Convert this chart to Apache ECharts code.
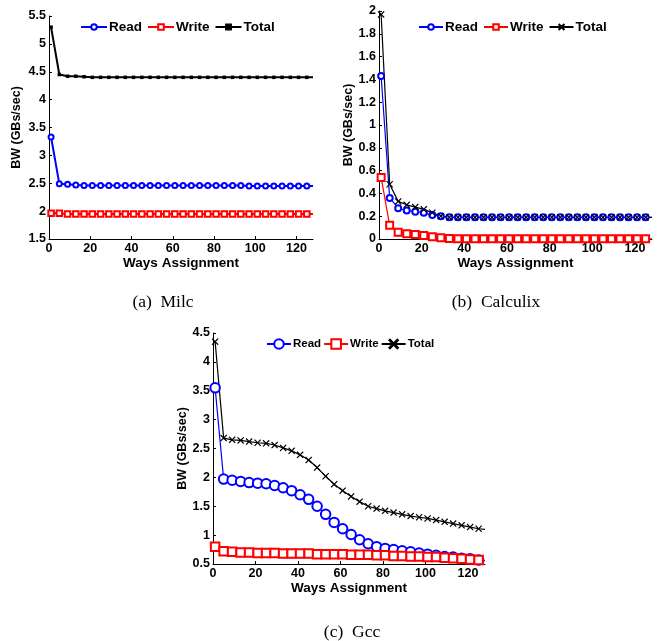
<!DOCTYPE html>
<html><head><meta charset="utf-8">
<script src="https://cdn.jsdelivr.net/npm/echarts@6/dist/echarts.min.js"></script>
<style>html,body{margin:0;padding:0;background:#fff}#c{width:662px;height:641px}</style>
</head><body><div id="c"></div>
<script>
// x positions (ways assignment); last point = axis end, drawn without marker
var ways = [1,5,9,13,17,21,25,29,33,37,41,45,49,53,57,61,65,69,73,77,81,85,89,93,97,101,105,109,113,117,121,125,128];

// (a) Milc
var milcRead  = [3.33,2.49,2.48,2.47,2.46,2.46,2.46,2.46,2.46,2.46,2.46,2.46,2.46,2.46,2.46,2.46,2.46,2.46,2.46,2.46,2.46,2.46,2.46,2.46,2.45,2.45,2.45,2.45,2.45,2.45,2.45,2.45,2.45];
var milcWrite = [1.96,1.96,1.95,1.95,1.95,1.95,1.95,1.95,1.95,1.95,1.95,1.95,1.95,1.95,1.95,1.95,1.95,1.95,1.95,1.95,1.95,1.95,1.95,1.95,1.95,1.95,1.95,1.95,1.95,1.95,1.95,1.95,1.95];
var milcTotal = [5.30,4.45,4.42,4.42,4.41,4.40,4.40,4.40,4.40,4.40,4.40,4.40,4.40,4.40,4.40,4.40,4.40,4.40,4.40,4.40,4.40,4.40,4.40,4.40,4.40,4.40,4.40,4.40,4.40,4.40,4.40,4.40,4.40];

// (b) Calculix
var calcRead  = [1.43,0.36,0.27,0.25,0.24,0.23,0.21,0.20,0.19,0.19,0.19,0.19,0.19,0.19,0.19,0.19,0.19,0.19,0.19,0.19,0.19,0.19,0.19,0.19,0.19,0.19,0.19,0.19,0.19,0.19,0.19,0.19,0.19];
var calcWrite = [0.54,0.12,0.06,0.045,0.04,0.03,0.02,0.01,0.005,0.003,0.002,0.002,0.002,0.002,0.002,0.002,0.002,0.002,0.002,0.002,0.002,0.002,0.002,0.002,0.002,0.002,0.002,0.002,0.002,0.002,0.002,0.002,0.002];
var calcTotal = [1.97,0.48,0.33,0.30,0.28,0.26,0.23,0.20,0.19,0.19,0.19,0.19,0.19,0.19,0.19,0.19,0.19,0.19,0.19,0.19,0.19,0.19,0.19,0.19,0.19,0.19,0.19,0.19,0.19,0.19,0.19,0.19,0.19];

// (c) Gcc
var gccRead  = [3.55,1.97,1.95,1.93,1.91,1.90,1.89,1.86,1.82,1.77,1.70,1.62,1.50,1.36,1.22,1.11,1.01,0.92,0.85,0.80,0.77,0.75,0.73,0.71,0.69,0.67,0.65,0.63,0.62,0.60,0.59,0.57,0.56];
var gccWrite = [0.80,0.72,0.71,0.70,0.70,0.69,0.69,0.69,0.68,0.68,0.68,0.68,0.67,0.67,0.67,0.67,0.66,0.66,0.66,0.65,0.65,0.64,0.64,0.63,0.63,0.62,0.62,0.61,0.60,0.59,0.58,0.57,0.56];
var gccTotal = [4.35,2.68,2.65,2.64,2.62,2.60,2.59,2.56,2.51,2.46,2.39,2.30,2.17,2.02,1.88,1.77,1.67,1.58,1.50,1.46,1.42,1.39,1.36,1.33,1.31,1.29,1.26,1.23,1.20,1.17,1.14,1.11,1.10];

var seriesNames = ['Read','Write','Total'];
var captions = ['(a)  Milc','(b)  Calculix','(c)  Gcc'];
var xTicks = [0,20,40,60,80,100,120];

var XSYM = 'path://M0,1.2L1.2,0L5,3.8L8.8,0L10,1.2L6.2,5L10,8.8L8.8,10L5,6.2L1.2,10L0,8.8L3.8,5Z';
var BLUE = '#0000ff', RED = '#ff0000', BLACK = '#000000';
var FONT = 'Liberation Sans, Arial, sans-serif';
var SERIF = 'Liberation Serif, Times New Roman, serif';

function mk(name, idx, vals, symbol, size, color, lw, bw) {
  var data = vals.map(function (v, i) {
    return i === vals.length - 1 ? {value: [ways[i], v], symbol: 'none'} : [ways[i], v];
  });
  var filled = symbol.indexOf('empty') < 0;
  return {
    type: 'line', name: name, xAxisIndex: idx, yAxisIndex: idx, data: data,
    symbol: symbol, symbolSize: size, showAllSymbol: true,
    lineStyle: {color: color, width: lw},
    itemStyle: {color: color, borderColor: color, borderWidth: filled ? 0 : bw},
    emphasis: {disabled: true}, z: 2
  };
}

function xAxis(idx) {
  return {
    type: 'value', gridIndex: idx, min: 0, max: 128, interval: 20,
    name: 'Ways Assignment', nameLocation: 'middle', nameGap: 16,
    nameTextStyle: {fontFamily: FONT, fontWeight: 'bold', fontSize: 13.5, color: '#000', verticalAlign: 'top'},
    axisLine: {lineStyle: {color: '#000', width: 1}},
    axisTick: {inside: true, length: 3, lineStyle: {color: '#000'}},
    axisLabel: {fontFamily: FONT, fontWeight: 'bold', fontSize: 12.5, color: '#000', margin: 3,
      showMaxLabel: false,
      formatter: function (v) { return xTicks.indexOf(v) >= 0 ? String(v) : ''; }},
    splitLine: {show: false}
  };
}
function yAxis(idx, min, max, interval, gap) {
  return {
    type: 'value', gridIndex: idx, min: min, max: max, interval: interval,
    name: 'BW (GBs/sec)', nameLocation: 'middle', nameGap: gap, nameRotate: 90,
    nameTextStyle: {fontFamily: FONT, fontWeight: 'bold', fontSize: 12.5, color: '#000'},
    axisLine: {show: true, lineStyle: {color: '#000', width: 1}},
    axisTick: {show: true, inside: true, length: 3, lineStyle: {color: '#000'}},
    axisLabel: {fontFamily: FONT, fontWeight: 'bold', fontSize: 12.5, color: '#000', margin: 3,
      formatter: function (v) { return String(Math.round(v * 10) / 10); }},
    splitLine: {show: false}
  };
}
function legend(idx, left, top, iw, ih, gap, suffix, fs) {
  return {
    left: left, top: top, orient: 'horizontal', itemWidth: iw, itemHeight: ih, itemGap: gap,
    data: seriesNames.map(function (n) { return n + suffix; }),
    formatter: function (n) { return n.trim(); },
    itemStyle: {borderWidth: 1.2},
    textStyle: {fontFamily: FONT, fontWeight: 'bold', fontSize: fs, color: '#000', padding: [0, 0, 0, -3]},
    selectedMode: false, padding: 0
  };
}

var chart = echarts.init(document.getElementById('c'), null, {renderer: 'canvas'});
chart.setOption({
  animation: false,
  backgroundColor: '#fff',
  title: [
    {text: captions[0], left: 158, top: 288, textAlign: 'center', textStyle: {fontFamily: SERIF, fontSize: 17.5, fontWeight: 'normal', color: '#000'}},
    {text: captions[1], left: 491, top: 288, textAlign: 'center', textStyle: {fontFamily: SERIF, fontSize: 17.5, fontWeight: 'normal', color: '#000'}},
    {text: captions[2], left: 347, top: 618, textAlign: 'center', textStyle: {fontFamily: SERIF, fontSize: 17.5, fontWeight: 'normal', color: '#000'}}
  ],
  legend: [
    legend(0, 80, 20, 26, 7, 5, '', 13.5),
    legend(1, 418, 20, 24, 7, 5, ' ', 13.5),
    legend(2, 266, 338, 24, 12, 2, '  ', 11.5)
  ],
  grid: [
    {left: 49, top: 16, width: 264, height: 223},
    {left: 379, top: 11, width: 273, height: 228},
    {left: 213, top: 333, width: 272, height: 231}
  ],
  xAxis: [xAxis(0), xAxis(1), xAxis(2)],
  yAxis: [yAxis(0, 1.5, 5.5, 0.5, 26), yAxis(1, 0, 2, 0.2, 21), yAxis(2, 0.5, 4.5, 0.5, 22)],
  series: [
    mk('Read', 0, milcRead, 'emptyCircle', 5, BLUE, 2, 1.5),
    mk('Write', 0, milcWrite, 'emptyRect', 5.5, RED, 2, 1.2),
    mk('Total', 0, milcTotal, 'rect', 3.5, BLACK, 2, 0),
    mk('Read ', 1, calcRead, 'emptyCircle', 6, BLUE, 1.2, 1.2),
    mk('Write ', 1, calcWrite, 'emptyRect', 7, RED, 1.2, 1.2),
    mk('Total ', 1, calcTotal, XSYM, 7, BLACK, 1.2, 0),
    mk('Read  ', 2, gccRead, 'emptyCircle', 9.5, BLUE, 1.2, 1.2),
    mk('Write  ', 2, gccWrite, 'emptyRect', 8.5, RED, 1.2, 1.2),
    mk('Total  ', 2, gccTotal, XSYM, 7, BLACK, 1.2, 0)
  ]
});
</script></body></html>
